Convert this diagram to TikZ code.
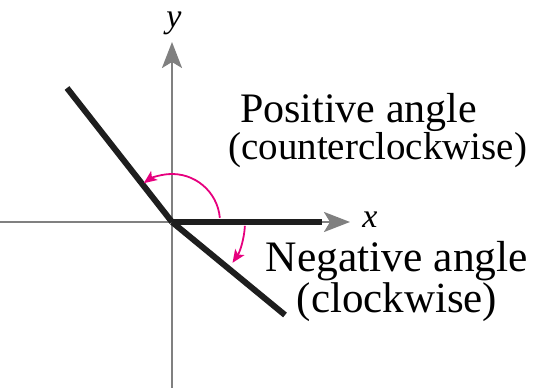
\documentclass[tikz,border=0pt]{standalone}
\usepackage{fontspec}
\setmainfont{Liberation Serif}
\usetikzlibrary{arrows.meta}
\definecolor{axisgray}{RGB}{128,128,128}
\definecolor{arcpink}{RGB}{230,0,126}
\definecolor{raydark}{RGB}{30,30,30}
\tikzset{
  axisline/.style={draw=axisgray, line width=2.6pt, -{Stealth[length=26pt,width=20pt,inset=6pt]}},
  rayline/.style={draw=raydark, line width=6pt},
  anglearc/.style={draw=arcpink, line width=1.8pt, -{Stealth[length=13pt,width=11pt,inset=3pt]}},
  bigtext/.style={inner sep=0pt, font=\fontsize{#1}{50}\selectfont},
  axlabel/.style={inner sep=0pt, font=\fontsize{34}{40}\selectfont\itshape}
}
\begin{document}
\begin{tikzpicture}[x=1pt,y=1pt]
\useasboundingbox (0,0) rectangle (549,388);
\coordinate (O) at (172,166);
\coordinate (xs) at (0,166);
\coordinate (xe) at (350,166);
\coordinate (ys) at (172,0);
\coordinate (ye) at (172,346);
\coordinate (rx) at (322,166);
\coordinate (ru) at (67,300);
\coordinate (rl) at (285,73);
\draw[axisline] (xs) -- (xe);
\draw[axisline] (ys) -- (ye);
\draw[rayline] (O) -- (rx);
\draw[rayline, line cap=butt] (O) -- (ru);
\draw[rayline] (O) -- (rl);
\draw[anglearc] ([shift={(5:48)}]O) arc[start angle=5, end angle=126, radius=48];
\draw[anglearc] ([shift={(-3:73)}]O) arc[start angle=-3, end angle=-34, radius=73];
\node[axlabel, anchor=base] (xl) at (370,160) {x};
\node[axlabel, anchor=base] (yl) at (174,360) {y};
\node[bigtext=42, anchor=base west] (p1) at (240,265) {Positive angle};
\node[bigtext=39, anchor=base west] (p2) at (228,228) {(counterclockwise)};
\node[bigtext=43.5, anchor=base] (n1) at (397,116) {Negative angle};
\node[bigtext=43, anchor=base] (n2) at (397,75) {(clockwise)};
\end{tikzpicture}
\end{document}
